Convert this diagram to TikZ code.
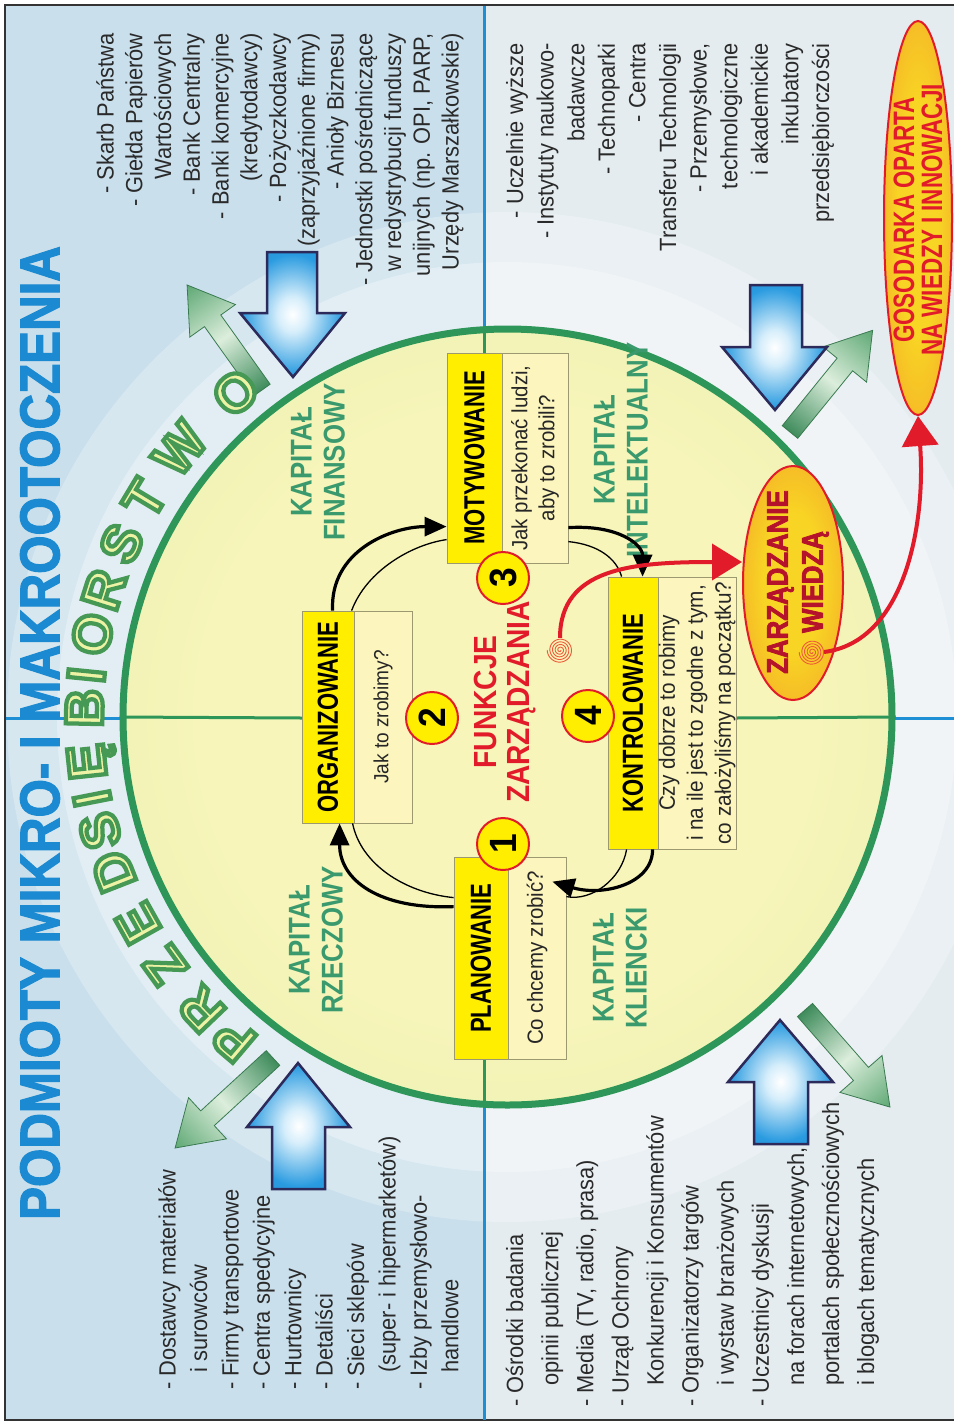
\documentclass[tikz,border=0pt]{standalone}
\usepackage{fontspec}
\setmainfont{Liberation Sans}[FakeStretch=0.93]
\newfontfamily\condfont{Liberation Sans}[FakeStretch=0.76]
\newfontfamily\medfont{Liberation Sans}[FakeStretch=0.86]
\newfontfamily\titlefont{Liberation Sans}[FakeStretch=0.88]
\newfontfamily\headfont{Liberation Sans}[FakeStretch=0.88, BoldFeatures={FakeBold=2}]
\newfontfamily\zwfont{Liberation Sans}[FakeStretch=0.86, BoldFeatures={FakeBold=2.5}]
\newfontfamily\ringfont{Liberation Sans}[BoldFeatures={FakeBold=8}]
\usetikzlibrary{arrows.meta,shapes.geometric,calc}

\definecolor{bgblue}{HTML}{C9DFEC}
\definecolor{bgpale}{HTML}{E4ECEF}
\definecolor{lineblue}{HTML}{1E8FD5}
\definecolor{ringgreen}{HTML}{2E9658}
\definecolor{discin}{HTML}{F7F5B9}
\definecolor{discout}{HTML}{D9E8AA}
\definecolor{boxyellow}{HTML}{FFEE00}
\definecolor{boxpale}{HTML}{FCF5BE}
\definecolor{boxedge}{HTML}{9C9870}
\definecolor{navy}{HTML}{2C2A5A}
\definecolor{arrowblue}{HTML}{2A9BE0}
\definecolor{arrowdeep}{HTML}{1E7FC8}
\definecolor{arrowhigh}{HTML}{D6EEFB}
\definecolor{capgreen}{HTML}{3A9A6E}
\definecolor{titleblue}{HTML}{1C8AD2}
\definecolor{fred}{HTML}{E21B2B}
\definecolor{darkred}{HTML}{B5132B}
\definecolor{spiralred}{HTML}{EE5A3A}
\definecolor{orangeedge}{HTML}{F0842C}
\definecolor{orangecore}{HTML}{F8D424}
\definecolor{letterfill}{HTML}{EDF2A4}
\definecolor{arrowgreen}{HTML}{3F8C5C}
\definecolor{arrowmid}{HTML}{5EA874}
\definecolor{arrowlight}{HTML}{DCEEDC}
\definecolor{arrowedge}{HTML}{3A7A50}
\definecolor{listgray}{HTML}{2A2A2A}

\pgfdeclareradialshading{discshade}{\pgfpoint{0bp}{0bp}}{color(0bp)=(discin); color(20bp)=(discin); color(50bp)=(discout)}
\pgfdeclareradialshading{orangeglow}{\pgfpoint{0bp}{0bp}}{color(0bp)=(orangecore); color(15bp)=(orangecore); color(50bp)=(orangeedge)}
\pgfdeclareradialshading{blueglow}{\pgfpoint{0bp}{0bp}}{color(0bp)=(white); color(7bp)=(arrowhigh); color(24bp)=(arrowblue); color(50bp)=(arrowdeep)}

% stroke colour for the outlined (fake bold) lettering
\newcommand{\rimcolor}[3]{\special{pdf:literal direct #1 #2 #3 RG}}

% outward green arrow: tail point, direction angle, length
\newcommand{\outarrow}[4]{%
  \begin{scope}[transform canvas={shift={(#1,#2)},rotate=#3}]
    \shade[draw=arrowedge, line width=0.8pt, left color=arrowgreen, right color=arrowmid, middle color=arrowlight]
      (0,-10) -- ({#4-44},-10) -- ({#4-44},-28) -- (#4,0) -- ({#4-44},28) -- ({#4-44},10) -- (0,10) -- cycle;
  \end{scope}}
\newcommand{\contind}{\hspace*{17pt}}
\newcommand{\contindb}{\hspace*{21pt}}

\begin{document}
\begin{tikzpicture}[x=1pt, y=-1pt,
  listtext/.style={rotate=90, inner sep=0pt, text=listgray},
  lbox/.style={rotate=90, draw=boxedge, line width=0.8pt, fill=boxyellow, inner sep=0pt,
    font=\condfont\bfseries\fontsize{29}{30}\selectfont},
  qbox/.style={rotate=90, draw=boxedge, line width=0.8pt, fill=boxpale, inner sep=0pt,
    align=center, text=black!85},
  numdot/.style={circle, rotate=90, draw=fred, line width=2pt, fill=boxyellow,
    minimum size=52pt, inner sep=0pt, font=\bfseries\fontsize{38}{38}\selectfont},
  caplabel/.style={rotate=90, inner sep=0pt, align=center, text=capgreen,
    font=\medfont\bfseries\fontsize{30}{33}\selectfont},
  ringchar/.style={inner sep=0pt, text height=38pt, text depth=0pt, text=letterfill,
    font=\ringfont\bfseries\fontsize{53}{53}\selectfont},
  titletext/.style={rotate=90, inner sep=0pt, text=titleblue,
    font=\headfont\bfseries\fontsize{56}{56}\selectfont},
  flow/.style={line width=3.2pt, -{Triangle[length=22pt,width=19pt]}},
  thinflow/.style={line width=1.3pt},
  redflow/.style={draw=fred, line width=4pt, -{Triangle[length=30pt,width=36pt]}},
  bluearrow/.style={draw=navy, line width=2.5pt, line join=miter, shading=blueglow},
  spiral/.style={draw=spiralred, line width=0.9pt},
  divider/.style={draw=lineblue, line width=3pt},
  splitline/.style={draw=ringgreen, line width=3pt}
]
\useasboundingbox (0,0) rectangle (954,1422);

% background panels and soft glow
\fill[white] (0,0) rectangle (954,1422);
\fill[bgblue] (6,6) rectangle (484,1420);
\fill[bgpale] (484,6) rectangle (954,1420);
\fill[white, opacity=0.25] (507,717) ellipse [x radius=500, y radius=505];
\fill[white, opacity=0.3] (507,717) ellipse [x radius=450, y radius=455];

% frame
\draw[black!80, line width=2.5pt] (954,5) -- (5,5) -- (5,1420) -- (954,1420);

% quadrant dividers
\draw[divider] (484,6) -- (484,1420);
\draw[divider] (6,718) -- (954,718);

% central disc
\node[ellipse, minimum width=769pt, minimum height=776pt, draw=ringgreen, line width=7pt,
      shade, shading=discshade, inner sep=0pt] (disc) at (507.5,717) {};

% green outward arrows
\outarrow{262}{390}{125.5}{129}
\outarrow{790}{432}{50.9}{131}
\outarrow{273}{1058}{-137.4}{133}
\outarrow{805}{1010}{-48.8}{129}

% blue inward arrows
\shade[bluearrow] (267,252) -- (317,252) -- (317,313) -- (345,313) -- (293,377) -- (240,313) -- (267,313) -- cycle;
\shade[bluearrow] (750,285) -- (802,285) -- (802,347) -- (827,347) -- (775,410) -- (722,347) -- (750,347) -- cycle;
\shade[bluearrow] (272,1189) -- (325,1189) -- (325,1127) -- (350,1127) -- (298,1063) -- (247,1127) -- (272,1127) -- cycle;
\shade[bluearrow] (754,1144) -- (808,1144) -- (808,1082) -- (833,1082) -- (780,1020) -- (728,1082) -- (754,1082) -- cycle;

% outlined lettering around the disc
\foreach \ang/\ch [count=\k] in {130.3/P,136.3/R,144.0/Z,150.8/E,158.6/D,164.4/S,168.9/I,173.9/Ę,
                                181.2/B,185.7/I,191.3/O,197.5/R,204.2/S,211.0/T,219.3/W,230.0/O}{
  \node[ringchar, rotate={-\ang-90}] (rl\k) at ($(disc.center)+(\ang:424)$) {\rimcolor{0.27}{0.60}{0.33}\ch};
}

% title
\node[titletext] (title) at (40,733) {\rimcolor{0.11}{0.54}{0.82}PODMIOTY MIKRO- I MAKROOTOCZENIA};

% lists of actors
\node[listtext, anchor=east, align=right, font=\fontsize{23.5}{28.75}\selectfont] (finlist) at (280,33) {%
- Skarb Państwa\\
- Giełda Papierów\\
Wartościowych\\
- Bank Centralny\\
- Banki komercyjne\\
(kredytodawcy)\\
- Pożyczkodawcy\\
(zaprzyjaźnione firmy)\\
- Anioły Biznesu\\
- Jednostki pośredniczące\\
w redystrybucji funduszy\\
unijnych (np. OPI, PARP,\\
Urzędy Marszałkowskie)};

\node[listtext, anchor=east, align=right, font=\fontsize{23.5}{30.6}\selectfont] (intlist) at (670,43) {%
- Uczelnie wyższe\\
- Instytuty naukowo-\\
badawcze\\
- Technoparki\\
- Centra\\
Transferu Technologii\\
- Przemysłowe,\\
technologiczne\\
i akademickie\\
inkubatory\\
przedsiębiorczości};

\node[listtext, anchor=west, align=left, font=\fontsize{23.5}{31.4}\selectfont] (reallist) at (308.5,1390) {%
- Dostawcy materiałów\\
\contind i surowców\\
- Firmy transportowe\\
- Centra spedycyjne\\
- Hurtownicy\\
- Detaliści\\
- Sieci sklepów\\
\contind (super- i hipermarketów)\\
- Izby przemysłowo-\\
\contind handlowe};

\node[listtext, anchor=west, align=left, font=\fontsize{23.5}{35.1}\selectfont] (clientlist) at (692.5,1407) {%
- Ośrodki badania\\
\contindb opinii publicznej\\
- Media (TV, radio, prasa)\\
- Urząd Ochrony\\
\contindb Konkurencji i Konsumentów\\
- Organizatorzy targów\\
\contindb i wystaw branżowych\\
- Uczestnicy dyskusji\\
\contindb na forach internetowych,\\
\contindb portalach społecznościowych\\
\contindb i blogach tematycznych};

% capital labels
\node[caplabel] (kr) at (316,940) {KAPITAŁ\\RZECZOWY};
\node[caplabel] (kf) at (318,462) {KAPITAŁ\\FINANSOWY};
\node[caplabel] (ki) at (621,450) {KAPITAŁ\\INTELEKTUALNY};
\node[caplabel] (kk) at (620,968) {KAPITAŁ\\KLIENCKI};

% centre heading
\node[rotate=90, inner sep=0pt, align=center, text=fred,
      font=\titlefont\bfseries\fontsize{32}{33}\selectfont] (fz) at (505,702) {FUNKCJE\\ZARZĄDZANIA};

% inner axis lines
\draw[splitline] (disc.west) -- (302,718);
\draw[splitline] (736,718) -- (disc.east);
\draw[splitline] (484,329) -- (484,353);
\draw[splitline] (484,1059) -- (484,1104);

% function boxes
\node[lbox, minimum width=212pt, minimum height=52pt] (org) at (328,717) {ORGANIZOWANIE};
\node[qbox, minimum width=212pt, minimum height=58pt, font=\fontsize{20.5}{26}\selectfont] (orgq) at (383,717) {Jak to zrobimy?};
\node[lbox, minimum width=210pt, minimum height=55pt] (moty) at (474.5,458) {MOTYWOWANIE};
\node[qbox, minimum width=210pt, minimum height=66pt, font=\fontsize{22}{27}\selectfont] (motyq) at (535,458) {Jak przekonać ludzi,\\aby to zrobili?};
\node[lbox, minimum width=202pt, minimum height=54pt] (plan) at (481,958) {PLANOWANIE};
\node[qbox, minimum width=202pt, minimum height=58pt, font=\fontsize{22}{26}\selectfont] (planq) at (537,958) {Co chcemy zrobić?};
\node[lbox, minimum width=272pt, minimum height=50pt] (kont) at (633,713) {KONTROLOWANIE};
\node[qbox, minimum width=272pt, minimum height=78pt, font=\fontsize{22.3}{28}\selectfont] (kontq) at (697,713) {Czy dobrze to robimy\\i na ile jest to zgodne z tym,\\co założyliśmy na początku?};

% management cycle
\draw[flow] ([yshift=-50pt]plan.north east) .. controls +(-74,3) and +(0,57) .. ([xshift=38pt]org.north west);
\draw[thinflow] ([yshift=-41pt]plan.north east) .. controls +(-50,-5) and +(8,40) .. ([xshift=51pt]org.north west);
\draw[flow] ([xshift=31pt]org.north east) .. controls +(-3,-60) and +(-55,0) .. ([yshift=-174pt]moty.north east);
\draw[thinflow] ([xshift=50pt]org.north east) .. controls +(15,-40) and +(-35,5) .. ([yshift=-187pt]moty.north east);
\draw[flow] ([yshift=-175pt]motyq.south east) .. controls +(50,-3) and +(0,-32) .. ([xshift=35pt]kont.north east);
\draw[thinflow] ([yshift=-189pt]motyq.south east) .. controls +(30,3) and +(-5,-18) .. ([xshift=14pt]kont.north east);
\draw[flow] ([xshift=45pt]kont.north west) .. controls +(0,35) and +(50,15) .. ([xshift=-14pt,yshift=-25pt]planq.south east);
\draw[thinflow] ([xshift=19pt]kont.north west) .. controls +(-5,30) and +(25,5) .. ([yshift=-40pt]planq.south east);

% step numbers
\node[numdot] (n1) at (503,844) {1};
\node[numdot] (n2) at (432,718) {2};
\node[numdot] (n3) at (503,578) {3};
\node[numdot] (n4) at (588,716) {4};

% knowledge management
\coordinate (sp1) at (560,650);
\coordinate (sp2) at (812,652);
\node[ellipse, rotate=90, minimum width=234pt, minimum height=100pt, inner sep=0pt,
      draw=fred, line width=2pt, shade, shading=orangeglow] (zw) at (793,583) {};
\node[rotate=90, inner sep=0pt, align=center, text=darkred,
      font=\zwfont\bfseries\fontsize{30}{35}\selectfont] (zwtext) at (798,582) {\rimcolor{0.71}{0.07}{0.17}ZARZĄDZANIE\\\rimcolor{0.71}{0.07}{0.17}WIEDZĄ};
\node[ellipse, rotate=90, minimum width=394pt, minimum height=68pt, inner sep=0pt,
      draw=fred, line width=2pt, shade, shading=orangeglow] (gos) at (918,218) {};
\node[rotate=90, inner sep=0pt, align=center, text=fred,
      font=\condfont\bfseries\fontsize{29.5}{28}\selectfont] (gostext) at (918,220) {GOSODARKA OPARTA\\NA WIEDZY I INNOWACJI};

\draw[redflow] ([yshift=12pt]sp1) .. controls +(0,-70) and +(-110,0) .. ([yshift=21pt]zw.north);
\draw[redflow] ([xshift=12pt]sp2) .. controls +(80,-10) and +(8,110) .. (gos.west);
\draw[spiral, shift={(sp1)}] plot[domain=0:1620, samples=180, smooth] (\x:{0.8+\x/135});
\draw[spiral, shift={(sp2)}] plot[domain=0:1620, samples=180, smooth] (\x:{0.8+\x/135});
\end{tikzpicture}
\end{document}
